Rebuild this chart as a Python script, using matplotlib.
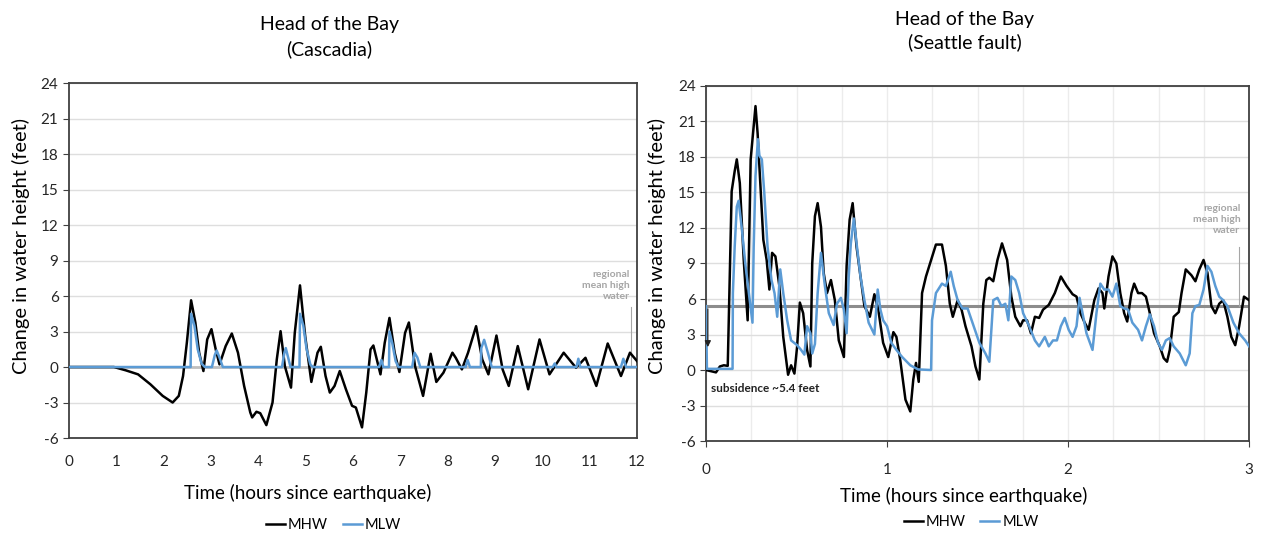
import matplotlib
matplotlib.use("Agg")
import matplotlib.pyplot as plt
from matplotlib.lines import Line2D

plt.rcParams['font.family'] = ['Lato', 'DejaVu Sans']
plt.rcParams['axes.unicode_minus'] = False

# ---- Cascadia (hours since earthquake, feet)
casc_mhw_t = [0, 0.95, 1.20, 1.46, 1.72, 1.98, 2.19, 2.32, 2.41, 2.49, 2.58, 2.67, 2.75, 2.84,
              2.92, 3.01, 3.10, 3.18, 3.31, 3.44, 3.57, 3.70, 3.83, 3.87, 3.96, 4.04, 4.17,
              4.30, 4.39, 4.47, 4.56, 4.69, 4.77, 4.88, 4.99, 5.12, 5.25, 5.32, 5.42, 5.51,
              5.61, 5.72, 5.85, 5.98, 6.06, 6.19, 6.28, 6.37, 6.43, 6.58, 6.67, 6.77, 6.88,
              6.98, 7.10, 7.18, 7.31, 7.48, 7.64, 7.76, 7.91, 8.10, 8.17, 8.30, 8.43, 8.60,
              8.73, 8.86, 9.03, 9.16, 9.29, 9.48, 9.70, 9.94, 10.15, 10.45, 10.71, 10.91,
              11.14, 11.38, 11.66, 11.85, 12.0]
casc_mhw = [0, 0, -0.28, -0.62, -1.46, -2.44, -3.0, -2.44, -0.76, 2.05, 5.64, 3.76, 1.21, -0.34,
            2.33, 3.2, 1.49, 0.22, 1.77, 2.83, 1.21, -1.6, -3.84, -4.26, -3.78, -3.9, -4.91,
            -3.0, 0.64, 3.03, 0.08, -1.74, 2.89, 6.9, 2.61, -1.26, 1.21, 1.71, -0.76, -2.16,
            -1.6, -0.34, -1.88, -3.28, -3.42, -5.1, -2.16, 1.49, 1.82, -0.62, 2.05, 4.15, 1.21,
            -0.42, 2.89, 3.76, 0.08, -2.44, 1.12, -1.26, -0.48, 1.21, 0.78, -0.2, 1.21, 3.45,
            0.64, -0.62, 2.66, -0.2, -1.6, 1.77, -1.88, 2.33, -0.62, 1.21, -0.06, 0.78,
            -1.6, 1.99, -0.76, 1.21, 0.5]

casc_mlw_t = [0, 2.57, 2.58, 2.65, 2.72, 2.80, 2.87, 3.02, 3.08, 3.12, 3.18, 3.25, 4.50, 4.55,
              4.58, 4.63, 4.68, 4.87, 4.88, 4.95, 5.02, 5.10, 5.15, 6.55, 6.60, 6.64, 6.76,
              6.77, 6.83, 6.90, 6.96, 7.25, 7.30, 7.36, 7.42, 8.38, 8.42, 8.47, 8.70, 8.71,
              8.77, 8.85, 8.93, 10.22, 10.26, 10.30, 10.72, 10.76, 10.80, 11.66, 11.71, 11.77, 12.0]
casc_mlw = [0, 0, 4.5, 3.5, 1.5, 0.3, 0, 0, 1.0, 1.4, 0.8, 0, 0, 1.2,
            1.6, 0.8, 0, 0, 4.5, 3.5, 1.5, 0.2, 0, 0, 0.6, 0, 0,
            3.0, 2.0, 0.5, 0, 0, 1.2, 0.8, 0, 0, 0.6, 0, 0, 1.6,
            2.3, 1.2, 0, 0, 0.3, 0, 0, 0.7, 0, 0, 0.7, 0, 0]
casc_mhw_level = 0.0

# ---- Seattle fault (minutes since earthquake, feet)
sea_mhw_t = [0, 3.3, 4.6, 5.9, 7.2, 7.9, 8.5, 9.5, 10.2, 11.2, 12.5, 13.8, 14.8, 15.8, 16.4,
             17.1, 17.7, 19.0, 20.1, 21.0, 21.9, 23.0, 24.3, 25.6, 27.2, 28.2, 29.3, 30.2,
             31.1, 32.2, 33.5, 34.6, 35.2, 36.1, 37.0, 38.1, 39.0, 40.1, 41.4, 42.7, 44.0,
             45.7, 46.6, 47.6, 48.6, 49.9, 51.2, 52.5, 54.3, 55.8, 57.1, 58.7, 60.4, 62.1,
             63.1, 64.4, 66.1, 67.7, 68.7, 69.6, 70.5, 71.6, 72.9, 74.6, 76.2, 78.2, 79.5,
             80.8, 81.8, 83.4, 84.7, 86.0, 88.0, 89.3, 90.6, 91.9, 92.9, 93.9, 95.2, 96.6,
             98.1, 99.8, 101.2, 102.5, 104.2, 105.1, 106.4, 107.7, 109.0, 110.4, 111.7,
             113.6, 115.6, 117.6, 119.5, 121.5, 122.8, 124.1, 125.5, 126.8, 128.7, 130.1,
             131.4, 132.0, 132.7, 133.4, 134.7, 136.0, 137.3, 138.6, 139.6, 141.0, 141.9,
             143.2, 144.5, 145.8, 147.1, 148.5, 150.4, 151.7, 152.8, 153.7, 155.0, 156.7,
             157.6, 159.0, 160.9, 162.2, 163.5, 164.9, 166.2, 167.5, 168.8, 170.1, 171.4,
             172.8, 174.1, 175.4, 176.7, 178.3, 180.0]
sea_mhw = [0, -0.2, 0.3, 0.4, 0.35, 8.5, 15.1, 16.8, 17.8, 15.8, 9.3, 4.2, 17.8, 20.6, 22.3,
           20.0, 17.2, 11.0, 9.3, 6.8, 9.9, 9.6, 7.1, 2.8, -0.4, 0.4, -0.3, 2.0,
           5.7, 4.8, 1.7, 0.3, 9.0, 13.0, 14.1, 12.1, 8.2, 6.5, 7.6, 5.9, 2.5,
           1.1, 8.8, 12.7, 14.1, 10.4, 7.9, 5.4, 4.5, 6.4, 5.1, 2.3, 1.1, 3.2,
           2.8, 0.8, -2.5, -3.5, -0.8, 0.6, -1.0, 6.5, 7.9, 9.3, 10.6, 10.6, 8.8,
           5.6, 4.5, 5.9, 5.1, 3.7, 2.0, 0.3, -0.8, 5.6, 7.6, 7.8, 7.5, 9.3,
           10.7, 9.3, 6.2, 4.5, 3.7, 4.2, 4.2, 3.1, 4.5, 4.4, 5.1,
           5.5, 6.5, 7.9, 7.1, 6.4, 6.2, 4.8, 4.0, 3.4, 5.9, 6.9,
           6.5, 5.2, 6.5, 7.9, 9.6, 9.0, 6.5, 4.8, 4.1, 6.5, 7.3,
           6.5, 6.5, 6.2, 4.8, 3.1, 2.0, 1.0, 0.7, 1.7, 4.5, 4.9,
           6.5, 8.5, 8.0, 7.5, 8.5, 9.3, 8.2, 5.4, 4.8, 5.6, 5.9,
           4.5, 2.8, 2.1, 3.7, 6.2, 5.9]

sea_mlw_t = [0, 0.3, 8.8, 8.9, 9.5, 10.2, 10.8, 11.8, 13.1, 14.5, 15.4, 15.8, 16.4, 17.2, 17.7,
             18.5, 19.3, 20.4, 21.7, 22.7, 23.6, 24.6, 25.6, 26.9, 28.2, 30.2, 31.5, 32.6,
             33.5, 34.6, 35.2, 36.1, 37.0, 38.1, 39.4, 40.7, 42.3, 43.4, 44.7, 45.7, 46.6,
             47.3, 48.0, 49.0, 49.9, 51.2, 52.5, 53.9, 55.8, 56.9, 57.8, 58.7, 60.0, 61.4,
             63.1, 65.0, 67.7, 70.3, 74.6, 74.9, 76.2, 78.2, 79.5, 81.1, 82.1, 83.4, 85.0,
             86.7, 88.7, 90.6, 92.6, 93.9, 95.2, 96.6, 97.9, 99.2, 100.2, 101.2, 102.5,
             103.8, 105.1, 107.1, 109.0, 110.4, 112.3, 113.6, 115.0, 116.3, 117.6, 118.9,
             120.2, 121.5, 122.8, 123.8, 124.8, 126.1, 128.1, 129.4, 130.7, 132.0, 133.4,
             134.7, 136.0, 137.3, 138.6, 139.9, 141.3, 143.2, 144.5, 145.8, 147.1, 148.5,
             149.8, 151.1, 152.4, 153.7, 155.0, 157.0, 159.0, 160.3, 161.2, 162.2, 163.5,
             164.9, 166.2, 167.5, 168.8, 170.1, 171.4, 172.8, 174.8, 176.7, 178.7, 180.0]
sea_mlw = [5.4, 0.1, 0.1, 6.5, 10.4, 13.8, 14.3, 12.1, 8.8, 5.9, 4.0, 10.4, 16.4, 19.5, 18.1,
           17.8, 15.0, 10.4, 7.6, 6.5, 4.5, 8.5, 6.5, 4.2, 2.5, 2.1, 1.7, 1.3,
           3.7, 3.1, 1.4, 2.2, 6.5, 9.9, 7.1, 4.8, 3.8, 5.6, 6.1, 5.1, 3.1,
           7.9, 10.7, 12.8, 10.7, 7.9, 5.9, 4.0, 3.0, 6.8, 5.1, 4.2, 3.7, 2.3,
           1.7, 1.1, 0.4, 0.05, 0.0, 4.2, 6.5, 7.3, 7.1, 8.3, 7.1, 5.9, 5.2,
           5.2, 3.7, 2.3, 1.4, 0.7, 5.9, 6.1, 5.4, 5.6, 4.2, 7.9, 7.6,
           6.5, 4.8, 3.7, 2.5, 2.0, 2.8, 2.0, 2.5, 2.5, 3.7, 4.4,
           3.4, 2.8, 3.7, 6.1, 4.8, 3.1, 1.7, 4.8, 7.3, 6.8, 6.8,
           6.2, 7.3, 5.4, 5.2, 5.1, 4.0, 3.4, 2.5, 3.7, 4.7, 3.7,
           2.3, 1.7, 2.5, 2.7, 2.0, 1.4, 0.4, 1.4, 4.8, 5.4, 5.5,
           6.8, 8.8, 8.3, 7.1, 6.2, 5.9, 5.4, 4.0, 3.1, 2.5, 2.0]
sea_mhw_level = 5.4

black = '#000000'
blue = '#5B9BD5'
grid_c = '#dedede'
spine_c = '#404040'
note_c = '#a6a6a6'

fig = plt.figure(figsize=(12.63, 5.36), dpi=100)
ax1 = fig.add_axes([0.0546, 0.1828, 0.4498, 0.6623])
ax2 = fig.add_axes([0.559, 0.1772, 0.430, 0.6624])

for ax in (ax1, ax2):
    ax.set_ylim(-6, 24)
    ax.set_yticks(range(-6, 25, 3))
    ax.grid(axis='y', color=grid_c, lw=1)
    ax.set_axisbelow(True)
    for s in ax.spines.values():
        s.set_color(spine_c)
        s.set_linewidth(1.3)
    ax.tick_params(labelsize=11, colors='#262626', length=4, color=spine_c)
    ax.set_ylabel('Change in water height (feet)', fontsize=14.5, color='#000000')
    ax.set_xlabel('Time (hours since earthquake)', fontsize=13.5, color='#000000')

# left: Cascadia
ax1.set_xlim(0, 12)
ax1.set_xticks(range(0, 13))
ax1.tick_params(axis='x', length=0, pad=12)
ax1.plot([0, 12], [casc_mhw_level, casc_mhw_level], color='#bfbfbf', lw=2, zorder=1)
ax1.plot(casc_mhw_t, casc_mhw, color=black, lw=1.8, zorder=3, solid_joinstyle='round')
ax1.plot(casc_mlw_t, casc_mlw, color=blue, lw=1.8, zorder=4, solid_joinstyle='round')
ax1.plot([11.87, 11.87], [0, 5.1], color=note_c, lw=0.8, zorder=2)
ax1.text(11.85, 6.9, 'regional\nmean high\nwater', ha='right', va='center', fontsize=7.5,
         color=note_c, fontweight='bold', linespacing=1.25)
ax1.yaxis.set_label_coords(-0.068, 0.54)
ax1.xaxis.set_label_coords(0.42, -0.13)

# right: Seattle fault
ax2.set_xlim(0, 180)
ax2.set_xticks([0, 60, 120, 180])
ax2.set_xticklabels(['0', '1', '2', '3'])
ax2.set_xticks(range(0, 181, 15), minor=True)
ax2.grid(axis='x', which='both', color='#ececec', lw=1)
ax2.tick_params(axis='x', which='minor', length=0)
ax2.tick_params(axis='x', pad=12)
ax2.plot([0, 180], [sea_mhw_level, sea_mhw_level], color='#8c8c8c', lw=2.2, zorder=2)
ax2.plot(sea_mhw_t, sea_mhw, color=black, lw=1.8, zorder=3, solid_joinstyle='round')
ax2.plot(sea_mlw_t, sea_mlw, color=blue, lw=1.8, zorder=4, solid_joinstyle='round')
ax2.annotate('', xy=(0.6, 1.7), xytext=(0.6, sea_mhw_level),
             arrowprops=dict(arrowstyle='-|>', color='#222222', lw=0.9, mutation_scale=9), zorder=5)
ax2.text(1.7, -1.55, 'subsidence ~5.4 feet', fontsize=8.5, fontweight='bold', va='center', color='#222222')
ax2.plot([176.7, 176.7], [5.4, 10.4], color=note_c, lw=0.8, zorder=2)
ax2.text(177.1, 12.7, 'regional\nmean high\nwater', ha='right', va='center', fontsize=7.5,
         color=note_c, fontweight='bold', linespacing=1.25)
ax2.yaxis.set_label_coords(-0.074, 0.55)
ax2.xaxis.set_label_coords(0.475, -0.13)

fig.text(0.261, 1 - 37 / 536, 'Head of the Bay\n(Cascadia)', ha='center', va='center',
         fontsize=14, linespacing=1.5)
fig.text(0.764, 1 - 31 / 536, 'Head of the Bay\n(Seattle fault)', ha='center', va='center',
         fontsize=14, linespacing=1.4)

handles = [Line2D([], [], color=black, lw=1.8), Line2D([], [], color=blue, lw=1.8)]
fig.legend(handles, ['MHW', 'MLW'], loc='center', bbox_to_anchor=(0.264, 1 - 525 / 536), ncol=2,
           frameon=False, fontsize=10.5, handlelength=1.3, handletextpad=0.2, columnspacing=1.0)
fig.legend(handles, ['MHW', 'MLW'], loc='center', bbox_to_anchor=(0.769, 1 - 522 / 536), ncol=2,
           frameon=False, fontsize=10.5, handlelength=1.3, handletextpad=0.2, columnspacing=1.0)

fig.savefig('out.png', dpi=100)
